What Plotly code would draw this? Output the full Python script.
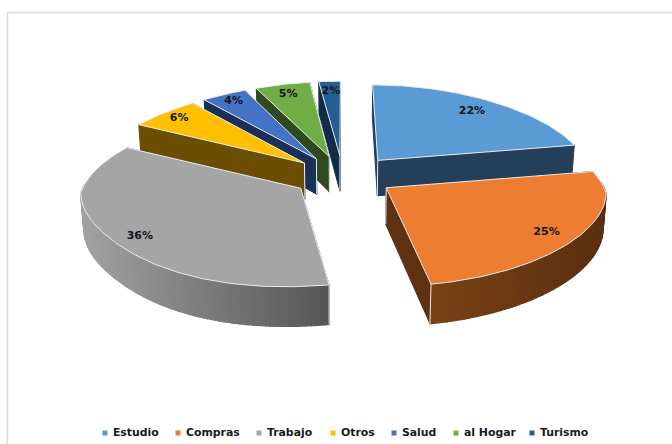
import math
import plotly.graph_objects as go

# Share of trips by purpose, percent, clockwise from twelve o'clock
categories = ["Estudio", "Compras", "Trabajo", "Otros", "Salud", "al Hogar", "Turismo"]
values = [22, 25, 36, 6, 4, 5, 2]

top_colors = ["#5B9BD5", "#ED7D31", "#A5A5A5", "#FFC000", "#4472C4", "#70AD47", "#255E91"]
side_colors = ["#243F5A", "#5E3112", "#6E6E6E", "#6B4E00", "#1B2F57", "#2F4A1D", "#102C4A"]
rim_left = ["#243F5A", "#7A4216", "#A2A2A2", "#6B4E00", "#1B2F57", "#2F4A1D", "#102C4A"]
rim_right = ["#243F5A", "#5A2F10", "#565656", "#6B4E00", "#1B2F57", "#2F4A1D", "#102C4A"]
label_reach = [0.82, 0.86, 0.88, 0.88, 0.88, 0.86, 0.85]
legend_slots = [105, 178, 259, 333, 394, 456, 532]
slice_shift = [3, 0, 0, 0, 0, 0, 0]
front_lean = [0, 0, -45, 0, 0, 0, 0]

# Projection of the tilted pie onto page pixels
CX, CY = 343.0, 176.0
RX, RY = 220.0, 86.0
DEPTH = 40.0
EXPLODE = 0.24
EDGE = "#E8EEF2"


def project(X, Y, z=0.0, shift=0.0, lean=0.0):
    sy = 1 / (1 - 0.1 * Y)
    sx = 1 + 0.15 * (Y - 0.2) if Y < 0.2 else 1 + 0.04 * (Y - 0.2)
    x = CX + shift + RX * X * sx * (1 - 0.012 * z) + lean * max(0.0, Y - 0.6) ** 2
    y = CY + RY * Y * sy + DEPTH * z * (0.9 + 0.08 * Y)
    return x, y


def polar(theta):
    return math.sin(theta), -math.cos(theta)


def mix(c1, c2, t):
    a = [int(c1[i:i + 2], 16) for i in (1, 3, 5)]
    b = [int(c2[i:i + 2], 16) for i in (1, 3, 5)]
    return "rgb(%d,%d,%d)" % tuple(round(p + (q - p) * t) for p, q in zip(a, b))


fig = go.Figure()


def patch(points, color, line=None, width=1.0):
    xs, ys = zip(*points)
    fig.add_trace(go.Scatter(
        x=list(xs) + [xs[0]], y=list(ys) + [ys[0]], mode="lines", fill="toself",
        fillcolor=color, line=dict(color=line or color, width=width),
        hoverinfo="skip", showlegend=False,
    ))


def edge_line(p, q):
    fig.add_trace(go.Scatter(
        x=[p[0], q[0]], y=[p[1], q[1]], mode="lines",
        line=dict(color=EDGE, width=1.0), hoverinfo="skip", showlegend=False,
    ))


# Slice angles follow directly from the values
total = sum(values)
bounds = []
acc = 0.0
for v in values:
    bounds.append((acc / total * 2 * math.pi, (acc + v) / total * 2 * math.pi))
    acc += v

labels = []
paint_order = [6, 5, 4, 3, 0, 1, 2]
for i in paint_order:
    start, end = bounds[i]
    mid = (start + end) / 2
    ox, oy = polar(mid)
    ox, oy = ox * EXPLODE, oy * EXPLODE
    steps = max(6, int((end - start) / 0.02))
    arc = [start + (end - start) * n / steps for n in range(steps + 1)]
    rim = [(ox + polar(t)[0], oy + polar(t)[1]) for t in arc]
    warp = dict(shift=slice_shift[i], lean=front_lean[i])

    # straight cut faces
    for t in (start, end):
        ex, ey = ox + polar(t)[0], oy + polar(t)[1]
        patch([project(ox, oy, 0, **warp), project(ex, ey, 0, **warp),
               project(ex, ey, 1, **warp), project(ox, oy, 1, **warp)], side_colors[i])

    # curved outer wall, shaded in narrow overlapping strips
    xs_all = [project(p[0], p[1], 0, **warp)[0] for p in rim]
    lo, hi = min(xs_all), max(xs_all)
    for n in range(steps):
        if math.cos((arc[n] + arc[n + 1]) / 2) < 0.05:
            a, b = rim[n], rim[n + 1]
            t = (project(a[0], a[1], 0, **warp)[0] - lo) / max(hi - lo, 1)
            patch([project(a[0], a[1], 0, **warp), project(b[0], b[1], 0, **warp),
                   project(b[0], b[1], 1, **warp), project(a[0], a[1], 1, **warp)],
                  mix(rim_left[i], rim_right[i], t), width=1.2)

    # pale vertical arrises at the hub and at front-facing corners
    edge_line(project(ox, oy, 0, **warp), project(ox, oy, 1, **warp))
    for t in (start, end):
        if math.cos(t) < -0.5:
            ex, ey = ox + polar(t)[0], oy + polar(t)[1]
            edge_line(project(ex, ey, 0, **warp), project(ex, ey, 1, **warp))

    # top face with its pale outline
    patch([project(ox, oy, 0, **warp)] + [project(p[0], p[1], 0, **warp) for p in rim],
          top_colors[i], EDGE, 1.0)

    reach = label_reach[i]
    lx, ly = project(ox + polar(mid)[0] * reach, oy + polar(mid)[1] * reach, 0, **warp)
    labels.append((lx, ly, "%d%%" % values[i]))

fig.add_trace(go.Scatter(
    x=[p[0] for p in labels], y=[p[1] for p in labels], text=[p[2] for p in labels],
    mode="text", textposition="middle center",
    textfont=dict(family="DejaVu Sans", size=11, color="#14141E", weight="bold"),
    hoverinfo="skip", showlegend=False,
))

# Legend row along the bottom edge
for name, color, slot in zip(categories, top_colors, legend_slots):
    fig.add_trace(go.Scatter(
        x=[slot], y=[433], text=[" " + name], mode="markers+text", textposition="middle right",
        marker=dict(symbol="square", size=5, color=color),
        textfont=dict(family="DejaVu Sans", size=10.9, color="#1A1A1A", weight="bold"),
        name=name, hoverinfo="skip", showlegend=False,
    ))

fig.update_layout(
    width=672, height=444, margin=dict(l=0, r=0, t=0, b=0),
    paper_bgcolor="white", plot_bgcolor="white", showlegend=False,
    xaxis=dict(range=[0, 672], visible=False, fixedrange=True),
    yaxis=dict(range=[444, 0], visible=False, fixedrange=True),
    shapes=[
        dict(type="line", xref="x", yref="y", x0=7, y0=12.5, x1=672, y1=12.5,
             line=dict(color="#DADADA", width=1.5)),
        dict(type="line", xref="x", yref="y", x0=7.5, y0=12, x1=7.5, y1=444,
             line=dict(color="#DADADA", width=1.5)),
    ],
)

fig.write_html("out.html")
